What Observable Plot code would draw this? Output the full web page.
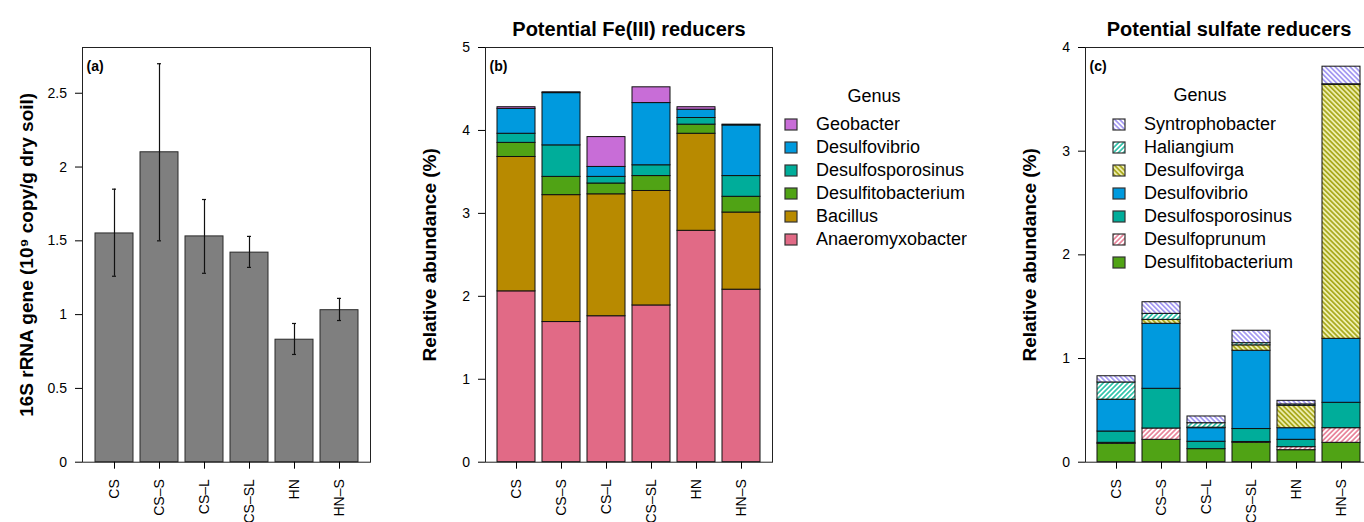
<!DOCTYPE html>
<html><head><meta charset="utf-8">
<script src="https://cdn.jsdelivr.net/npm/d3@7"></script>
<script src="https://cdn.jsdelivr.net/npm/@observablehq/plot@0.6"></script>
<style>
html, body { margin:0; padding:0; background:#fff; }
body { width:1364px; height:522px; overflow:hidden; position:relative; font-family:"Liberation Sans", Arial, Helvetica, sans-serif; }
.panel { position:absolute; top:0; }
.leg-title { position:absolute; font-size:18px; text-align:center; width:200px; line-height:20px; color:#000; }
.leg { position:absolute; width:240px; }
.lg-swatches { font-family:"Liberation Sans", Arial, sans-serif !important; font-size:18px !important; margin:0 !important; color:#000; }
.lg-swatch { height:23px; padding:0 !important; margin:0 !important; display:flex !important; align-items:center; }
.lg-swatch > svg { margin-right:19px !important; overflow:visible; flex-shrink:0; }
.lg-swatch > svg rect { stroke:#333; stroke-width:1.2px; }
#defs { position:absolute; width:0; height:0; }
</style></head>
<body>
<svg id="defs" width="0" height="0">
  <defs>
    <pattern id="p-syn" patternUnits="userSpaceOnUse" width="3.5" height="3.5" patternTransform="rotate(-45)">
      <rect width="3.5" height="3.5" fill="#ffffff"/><rect width="1.7" height="3.5" fill="#a398f2"/>
    </pattern>
    <pattern id="p-hal" patternUnits="userSpaceOnUse" width="3.5" height="3.5" patternTransform="rotate(45)">
      <rect width="3.5" height="3.5" fill="#ffffff"/><rect width="1.7" height="3.5" fill="#2ec2a9"/>
    </pattern>
    <pattern id="p-vir" patternUnits="userSpaceOnUse" width="3.5" height="3.5" patternTransform="rotate(-45)">
      <rect width="3.5" height="3.5" fill="#eeeeae"/><rect width="1.7" height="3.5" fill="#a8a81c"/>
    </pattern>
    <pattern id="p-pru" patternUnits="userSpaceOnUse" width="3.5" height="3.5" patternTransform="rotate(45)">
      <rect width="3.5" height="3.5" fill="#ffffff"/><rect width="1.7" height="3.5" fill="#e8839a"/>
    </pattern>
  </defs>
</svg>
<script>
// ---------- data ----------
const sites = ["CS", "CS–S", "CS–L", "CS–SL", "HN", "HN–S"];

// (a) 16S rRNA gene copies (10^9 copy/g dry soil)
const geneCopies = [1.55, 2.10, 1.53, 1.42, 0.83, 1.03];
const geneLow    = [1.26, 1.50, 1.28, 1.32, 0.73, 0.96];
const geneHigh   = [1.85, 2.70, 1.78, 1.53, 0.94, 1.11];

// (b) potential Fe(III) reducers, stacked bottom-up
const feGenera = ["Anaeromyxobacter", "Bacillus", "Desulfitobacterium", "Desulfosporosinus", "Desulfovibrio", "Geobacter"];
const feColors = ["#E16A86", "#B88A00", "#50A315", "#00AD9A", "#009ADE", "#C86DD7"];
const feAnaeromyxobacter   = [2.06, 1.69, 1.76, 1.89, 2.79, 2.08];
const feBacillus           = [1.62, 1.53, 1.47, 1.38, 1.17, 0.93];
const feDesulfitobacterium = [0.17, 0.22, 0.13, 0.18, 0.11, 0.19];
const feDesulfosporosinus  = [0.11, 0.38, 0.08, 0.13, 0.08, 0.25];
const feDesulfovibrio      = [0.30, 0.63, 0.12, 0.75, 0.10, 0.61];
const feGeobacter          = [0.02, 0.01, 0.36, 0.19, 0.03, 0.01];

// (c) potential sulfate reducers, stacked bottom-up
const sGenera = ["Desulfitobacterium", "Desulfoprunum", "Desulfosporosinus", "Desulfovibrio", "Desulfovirga", "Haliangium", "Syntrophobacter"];
const sFills  = ["#50A315", "url(#p-pru)", "#00AD9A", "#009ADE", "url(#p-vir)", "url(#p-hal)", "url(#p-syn)"];
const sDesulfitobacterium = [0.177, 0.216, 0.126, 0.187, 0.116, 0.187];
const sDesulfoprunum      = [0.010, 0.109, 0.000, 0.008, 0.029, 0.141];
const sDesulfosporosinus  = [0.109, 0.383, 0.071, 0.125, 0.071, 0.245];
const sDesulfovibrio      = [0.304, 0.627, 0.131, 0.755, 0.112, 0.617];
const sDesulfovirga       = [0.003, 0.038, 0.005, 0.052, 0.216, 2.450];
const sHaliangium         = [0.166, 0.058, 0.043, 0.021, 0.013, 0.005];
const sSyntrophobacter    = [0.060, 0.112, 0.065, 0.120, 0.035, 0.170];

const yTicksA = [0, 0.5, 1, 1.5, 2, 2.5];
const yTicksB = [0, 1, 2, 3, 4, 5];
const yTicksC = [0, 1, 2, 3, 4];

// ---------- tables ----------
const tableA = sites.map((s, i) => ({site: s, value: geneCopies[i], lo: geneLow[i], hi: geneHigh[i]}));
const feSeries = [feAnaeromyxobacter, feBacillus, feDesulfitobacterium, feDesulfosporosinus, feDesulfovibrio, feGeobacter];
const tableB = sites.flatMap((s, i) => feGenera.map((g, j) => ({site: s, genus: g, value: feSeries[j][i]})));
const sSeries = [sDesulfitobacterium, sDesulfoprunum, sDesulfosporosinus, sDesulfovibrio, sDesulfovirga, sHaliangium, sSyntrophobacter];
const tableC = sites.flatMap((s, i) => sGenera.map((g, j) => ({site: s, genus: g, value: sSeries[j][i]})));

// ---------- shared ----------
const FONT = '"Liberation Sans", Arial, Helvetica, sans-serif';
const style = {fontFamily: FONT, fontSize: "14px", background: "transparent", overflow: "visible", color: "#000"};
const xScale = {type: "band", domain: sites, paddingInner: 1 / 6, paddingOuter: 0.2333, align: 0.5, label: null};
const axisX = () => Plot.axisX({tickRotate: -90, tickSize: 7, tickPadding: 10, fontSize: 14, label: null});
const axisY = (ticks) => Plot.axisY({ticks, tickFormat: d => String(d), tickSize: 7, tickPadding: 8.5, fontSize: 14, label: null});
const yTitle = (t) => Plot.text([t], {frameAnchor: "left", textAnchor: "middle", dx: -56, rotate: -90, fontWeight: "bold", fontSize: 19});
const panelLabel = (t) => Plot.text([t], {frameAnchor: "top-left", dx: 4, dy: 14, textAnchor: "start", fontWeight: "bold", fontSize: 14});
const title = (t) => Plot.text([t], {frameAnchor: "top", textAnchor: "middle", dy: -26, fontWeight: "bold", fontSize: 20});

function place(el, left) {
  el.classList.add("panel");
  el.style.left = left + "px";
  document.body.appendChild(el);
}

// ---------- panel (a) ----------
const pa = Plot.plot({
  width: 380, height: 540,
  marginLeft: 82, marginRight: 10, marginTop: 47, marginBottom: 78.3,
  style,
  x: xScale,
  y: {domain: [0, 2.81], label: null},
  marks: [
    Plot.barY(tableA, {x: "site", y: "value", fill: "#7f7f7f", stroke: "#2a2a2a", strokeWidth: 1}),
    Plot.ruleX(tableA, {x: "site", y1: "lo", y2: "hi", stroke: "#111", strokeWidth: 1.2}),
    Plot.tickY(tableA, {x: "site", y: "lo", insetLeft: 17, insetRight: 17, stroke: "#111", strokeWidth: 1.2}),
    Plot.tickY(tableA, {x: "site", y: "hi", insetLeft: 17, insetRight: 17, stroke: "#111", strokeWidth: 1.2}),
    Plot.frame({stroke: "#222"}),
    axisY(yTicksA),
    axisX(),
    yTitle("16S rRNA gene (10⁹ copy/g dry soil)"),
    panelLabel("(a)")
  ]
});
place(pa, 0);

// ---------- panel (b) ----------
const pb = Plot.plot({
  width: 390, height: 540,
  marginLeft: 85, marginRight: 18, marginTop: 47, marginBottom: 78.3,
  style,
  x: xScale,
  y: {domain: [0, 5], label: null},
  color: {type: "ordinal", domain: feGenera, range: feColors},
  marks: [
    Plot.barY(tableB, {x: "site", y: "value", fill: "genus", stroke: "#111", strokeWidth: 1}),
    Plot.frame({stroke: "#222"}),
    axisY(yTicksB),
    axisX(),
    yTitle("Relative abundance (%)"),
    panelLabel("(b)"),
    title("Potential Fe(III) reducers")
  ]
});
place(pb, 400);

// ---------- panel (c) ----------
const pc = Plot.plot({
  width: 400, height: 540,
  marginLeft: 95, marginRight: 18, marginTop: 47, marginBottom: 78.3,
  style,
  x: xScale,
  y: {domain: [0, 4], label: null},
  color: {type: "ordinal", domain: sGenera, range: sFills},
  marks: [
    Plot.barY(tableC, {x: "site", y: "value", fill: "genus", stroke: "#111", strokeWidth: 1}),
    Plot.frame({stroke: "#222"}),
    axisY(yTicksC),
    axisX(),
    yTitle("Relative abundance (%)"),
    panelLabel("(c)"),
    title("Potential sulfate reducers")
  ]
});
place(pc, 990);

// ---------- legends ----------
function legend(domain, range, left, top, titleCx, titleCy) {
  const t = document.createElement("div");
  t.className = "leg-title";
  t.textContent = "Genus";
  t.style.left = (titleCx - 100) + "px";
  t.style.top = (titleCy - 10) + "px";
  document.body.appendChild(t);
  const lg = Plot.legend({
    color: {type: "ordinal", domain, range},
    legend: "swatches", columns: 1,
    swatchWidth: 12, swatchHeight: 11,
    className: "lg"
  });
  const wrap = document.createElement("div");
  wrap.className = "leg";
  wrap.style.left = left + "px";
  wrap.style.top = top + "px";
  wrap.appendChild(lg);
  document.body.appendChild(wrap);
}
legend(feGenera.slice().reverse(), feColors.slice().reverse(), 785, 112.5, 874, 96);
legend(sGenera.slice().reverse(), sFills.slice().reverse(), 1113, 112.5, 1200, 95);
</script>
</body></html>
